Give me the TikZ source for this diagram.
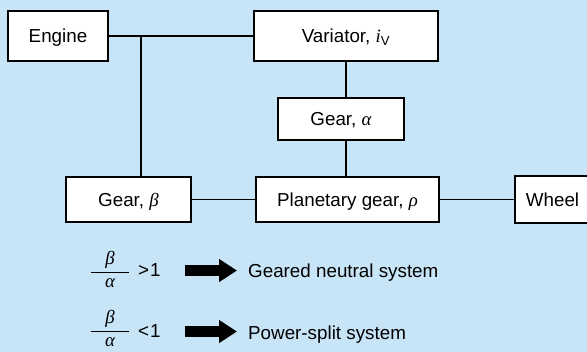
\documentclass[tikz,border=0pt]{standalone}
\usepackage{fontspec}
\setmainfont{Liberation Sans}
\newfontfamily\greekit{Liberation Serif}
\newcommand{\symit}[1]{{\greekit\itshape #1}}
\newcommand{\ratiofrac}[2]{{\setlength{\arrayrulewidth}{0.8pt}%
    \begin{tabular}{@{\hspace{14pt}}c@{\hspace{14pt}}}\symit{#1}\\\hline\symit{#2}\end{tabular}}}
\usetikzlibrary{arrows.meta}
\definecolor{panelblue}{RGB}{200,228,247}

\begin{document}
\begin{tikzpicture}[x=1pt, y=-1pt,
            block/.style={draw, line width=1.2pt, fill=white, inner sep=0pt,
                text height=13.5pt, text depth=0pt, font=\fontsize{18.8}{22}\selectfont},
            link/.style={line width=1.2pt},
            caption/.style={font=\fontsize{18.8}{22}\selectfont, inner sep=0pt, anchor=base west},
            bigarrow/.style={line width=10.5pt, -{Triangle[length=18pt, width=22pt]}}
        ]
            % Background
            \fill [panelblue] (0,0) rectangle (587,352);
            \useasboundingbox (0,0) rectangle (587,352);
            \clip (0,0) rectangle (587,352);

            % Boxes
            \node [block, minimum width=100pt, minimum height=50pt] (engine) at (58,36) {Engine};
            \node [block, minimum width=184pt, minimum height=50pt] (variator) at (346,36) {Variator, \symit{i}\textsubscript{V}};
            \node [block, minimum width=126pt, minimum height=42pt] (geara) at (341,119) {Gear, \symit{α}};
            \node [block, minimum width=125pt, minimum height=45pt] (gearb) at (128.5,199.5) {Gear, \symit{β}};
            \node [block, minimum width=183pt, minimum height=45pt] (planet) at (347.5,199.5) {Planetary gear, \symit{ρ}};
            \node [block, minimum width=75pt, minimum height=47pt] (wheel) at (552.5,199.5) {Wheel};

            % Shafts
            \coordinate (split) at (141,36);
            \draw [link] (engine) -- (variator);
            \draw [link] (split) -- (split |- gearb.north);
            \draw [link] (variator.south) -- (variator.south |- geara.north);
            \draw [link] (variator.south |- geara.south) -- (variator.south |- planet.north);
            \draw [link] (gearb) -- (planet);
            \draw [link] (planet) -- (wheel);

            % Ratio conditions
            \node [caption, anchor=center] (ratio1) at (110,272) {\ratiofrac{β}{α}};
            \node [caption] (cmp1) at (138,277) {>\kern1pt1};
            \node [caption] (sys1) at (248,278) {Geared neutral system};
            \draw [bigarrow] ([xshift=24pt]cmp1.east) -- ([xshift=-11pt]cmp1.east -| sys1.west);

            \node [caption, anchor=center] (ratio2) at (110,331) {\ratiofrac{β}{α}};
            \node [caption] (cmp2) at (138,338) {<\kern1pt1};
            \node [caption] (sys2) at (248,340) {Power-split system};
            \draw [bigarrow] ([xshift=24pt]cmp2.east) -- ([xshift=-11pt]cmp2.east -| sys2.west);
        \end{tikzpicture}
\end{document}
